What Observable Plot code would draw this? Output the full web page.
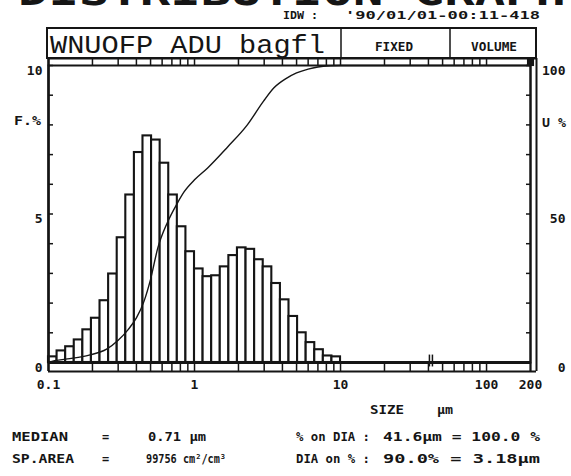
<!DOCTYPE html>
<html><head><meta charset="utf-8">
<script src="https://cdn.jsdelivr.net/npm/d3@7"></script>
<script src="https://cdn.jsdelivr.net/npm/@observablehq/plot@0.6"></script>
<style>html,body{margin:0;padding:0;background:#fff}svg{display:block}</style>
</head><body><div id="chart"></div>
<script>
// bin edges (µm), 34 channels on a log grid
const binEdges = [0.1, 0.1145, 0.1311, 0.1501, 0.1719, 0.1968, 0.2254, 0.2581, 0.2955, 0.3384,
  0.3875, 0.4437, 0.508, 0.5817, 0.6661, 0.7627, 0.8733, 1.0, 1.145, 1.311, 1.501, 1.719,
  1.968, 2.254, 2.581, 2.955, 3.384, 3.875, 4.437, 5.08, 5.817, 6.661, 7.627, 8.733, 10.0];
// frequency F % per channel
const freqPct = [0.19, 0.39, 0.53, 0.76, 1.10, 1.49, 2.08, 2.98, 4.20, 5.64, 7.07, 7.63, 7.49,
  6.71, 5.64, 4.57, 3.73, 3.15, 2.89, 2.92, 3.22, 3.60, 3.86, 3.81, 3.46, 3.22, 2.66, 2.11,
  1.55, 1.00, 0.67, 0.43, 0.22, 0.19];
// cumulative undersize curve U %
const cumSize = [0.1, 0.11, 0.14, 0.19, 0.25, 0.3, 0.35, 0.4, 0.45, 0.5, 0.56, 0.65, 0.76, 0.85,
  1.0, 1.23, 1.68, 2.3, 2.97, 3.5, 4.2, 5.0, 6.0, 7.0, 8.5, 10, 200];
const cumPct = [0, 0.6, 1.3, 2.5, 4.5, 7.5, 11, 15, 20.5, 28, 38.5, 47, 53.5, 57.5, 61.5, 65.5, 72.5,
  80, 88, 92.5, 95.5, 97.5, 98.8, 99.5, 99.9, 100, 100];
// axis ticks / labels
const xMinorTicks = [0.1,0.2,0.3,0.4,0.5,0.6,0.7,0.8,0.9,1,2,3,4,5,6,7,8,9,10,20,30,40,50,60,70,80,90,100,200];
const xLabelTicks = [0.1, 1, 10, 100, 200];
const yMinorTicks = [0,1,2,3,4,5,6,7,8,9,10];
const yLeftLabels = [0, 5, 10];
const yRightLabels = [0, 50, 100];
const diaMark = [41.6];

const bars = freqPct.map((f, i) => ({x1: binEdges[i], x2: binEdges[i + 1], f}));
const curvePts = cumSize.map((s, i) => ({s, u: cumPct[i]}));

const ink = "#151515";
const chart = Plot.plot({
  width: 571, height: 476,
  marginLeft: 48, marginRight: 41, marginTop: 65, marginBottom: 114,
  style: {fontFamily: "DejaVu Sans Mono", fontSize: "13px", fontWeight: "bold", color: ink, background: "white"},
  x: {type: "log", domain: [0.1, 200]},
  y: {domain: [0, 10]},
  marks: [
    Plot.rectY(bars, {x1: "x1", x2: "x2", y: "f", fill: "white", stroke: ink, strokeWidth: 2.1}),
    Plot.line(curvePts, {x: "s", y: d => d.u / 10, curve: "monotone-x", stroke: ink, strokeWidth: 1.4}),
    Plot.frame({stroke: ink, strokeWidth: 2}),
    Plot.ruleY([0], {stroke: ink, strokeWidth: 3}),
    // bottom scale band
    Plot.axisX({anchor: "bottom", ticks: xMinorTicks, tickSize: 9, tickFormat: () => "", stroke: ink, strokeWidth: 1.5}),
    Plot.ruleY([0], {dy: 9, insetRight: -6, stroke: ink, strokeWidth: 2}),
    // top scale band
    Plot.axisX({anchor: "top", ticks: xMinorTicks, tickSize: 7, tickFormat: () => "", stroke: ink, strokeWidth: 1.5}),
    Plot.ruleY([10], {dy: -7, insetRight: -6, stroke: ink, strokeWidth: 2}),
    Plot.ruleX([0.1], {insetTop: -7, insetBottom: -9, stroke: ink, strokeWidth: 2.5}),
    Plot.ruleX([200], {insetTop: -7, insetBottom: -9, stroke: ink, strokeWidth: 2}),
    Plot.ruleX([200], {dx: 6, insetTop: -7, insetBottom: -9, stroke: ink, strokeWidth: 2}),
    // x labels
    Plot.axisX({anchor: "bottom", ticks: xLabelTicks, tickSize: 0, tickPadding: 17, tickFormat: d => String(d), fill: ink}),
    // left axis (F %)
    Plot.axisY({anchor: "left", ticks: yMinorTicks, tickSize: -5, tickFormat: () => "", stroke: ink, strokeWidth: 1.5}),
    Plot.axisY({anchor: "left", ticks: yLeftLabels, tickSize: 0, tickPadding: 6, dy: 5, tickFormat: d => String(d), fill: ink}),
    // right axis (U %)
    Plot.axisY({anchor: "right", ticks: yMinorTicks, tickSize: -5, tickFormat: () => "", stroke: ink, strokeWidth: 1.5}),
    Plot.axisY({anchor: "right", ticks: yRightLabels.map(v => v / 10), tickSize: 0, tickPadding: 35, textAnchor: "end", dy: 5,
      tickFormat: d => String(Math.round(d * 10)), fill: ink}),
    // markers
    Plot.dot([{x: 200, y: 10}], {x: "x", y: "y", symbol: "square", r: 4, fill: ink, dy: -3}),
    Plot.ruleX(diaMark, {y1: -0.15, y2: 0.25, dx: -1.5, stroke: ink, strokeWidth: 1.5}),
    Plot.ruleX(diaMark, {y1: -0.15, y2: 0.25, dx: 1.5, stroke: ink, strokeWidth: 1.5})
  ]
});
document.getElementById("chart").append(chart);

const svg = d3.select(chart);
function txt(x, y, s, size, len, opts = {}) {
  const t = svg.append("text").attr("x", x).attr("y", y).text(s)
    .attr("font-size", size).attr("fill", ink)
    .attr("font-family", opts.family || "DejaVu Sans Mono")
    .attr("font-weight", opts.weight || "bold")
    .attr("text-anchor", opts.anchor || "start");
  if (len) t.attr("textLength", len).attr("lengthAdjust", "spacingAndGlyphs");
  return t;
}
// clipped title at very top
txt(18, 5, "DISTRIBUTION GRAPH", 38, 548);
// run id
txt(283, 19, "IDW :", 11, 35);
txt(345, 19, "'90/01/01-00:11-418", 11, 195);
// header box
svg.append("rect").attr("x", 47).attr("y", 28).attr("width", 489).attr("height", 30)
  .attr("fill", "none").attr("stroke", ink).attr("stroke-width", 2);
svg.append("line").attr("x1", 341).attr("x2", 341).attr("y1", 28).attr("y2", 58).attr("stroke", ink).attr("stroke-width", 1.5);
svg.append("line").attr("x1", 450).attr("x2", 450).attr("y1", 28).attr("y2", 58).attr("stroke", ink).attr("stroke-width", 1.5);
txt(50, 53, "WNUOFP ADU bagfl", 25, 275, {family: "Liberation Mono", weight: "normal"});
txt(375, 51, "FIXED", 12, 38);
txt(471, 51, "VOLUME", 12, 46);
// axis titles
txt(14, 125, "F.%", 12, 27);
txt(542, 127, "U %", 12, 24);
txt(370, 414, "SIZE", 12, 34);
txt(437, 414, "μm", 12, 16);
// statistics
txt(12, 441, "MEDIAN", 12, 56);
txt(102, 441, "=", 12);
txt(148, 441, "0.71 μm", 12, 58);
txt(296, 441, "% on DIA :", 12, 74);
txt(383, 441, "41.6μm = 100.0 %", 12, 157);
txt(12, 463, "SP.AREA", 12, 62);
txt(102, 463, "=", 12);
txt(146, 463, "99756 cm²/cm³", 12, 80);
txt(296, 463, "DIA on % :", 12, 74);
txt(383, 463, "90.0% = 3.18μm", 12, 157);
</script></body></html>
